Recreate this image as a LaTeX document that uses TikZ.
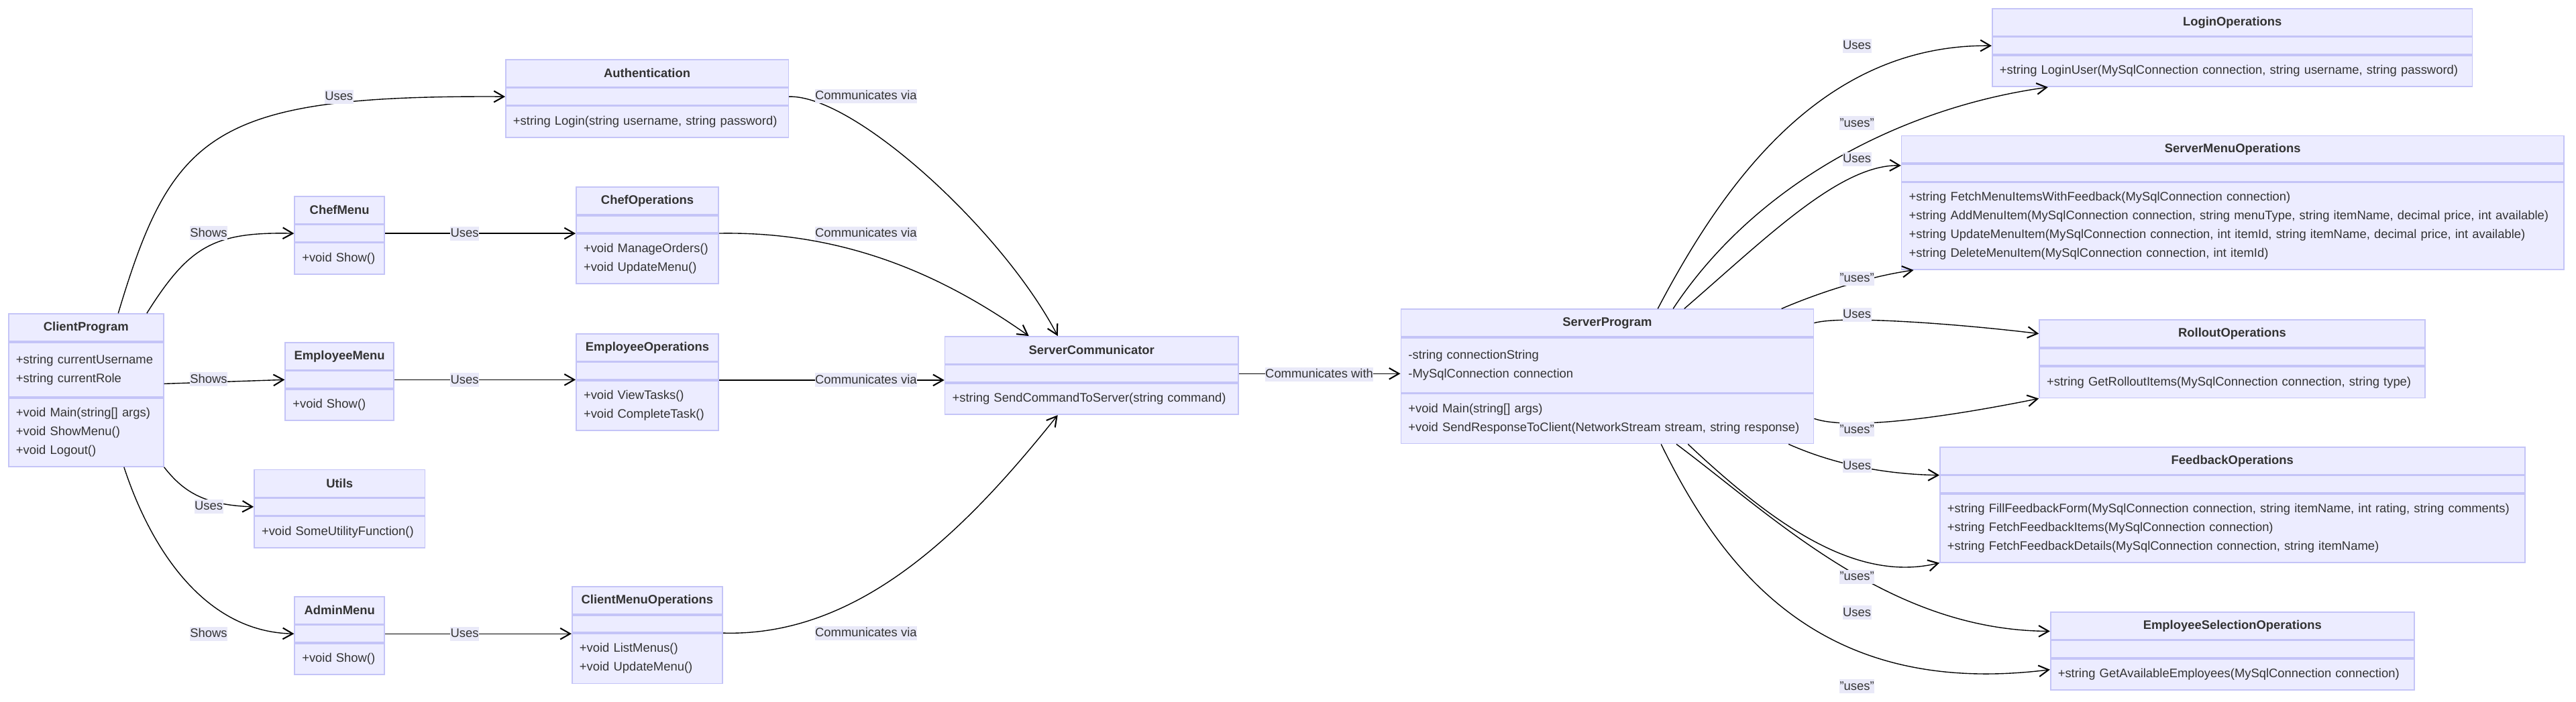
\documentclass[tikz,border=0pt]{standalone}
\usepackage{fontspec}
\setmainfont{Liberation Sans}
\usetikzlibrary{arrows.meta, positioning, calc}
\definecolor{clsfill}{HTML}{ECECFF}
\definecolor{clsline}{HTML}{C4C4F7}
\definecolor{clstext}{HTML}{333333}
\definecolor{lblfill}{HTML}{E9E9F8}

\begin{document}
\begin{tikzpicture}[x=0.05cm, y=-0.05cm, font=\fontsize{10.7}{16.26}\selectfont,
  chead/.style={draw=clsline, fill=clsfill, line width=1pt, text=clstext, inner sep=0pt, minimum height=0.835cm, anchor=north west},
  cpart/.style={draw=clsline, fill=clsfill, line width=1pt, text=clstext, align=left, inner xsep=0.225cm, inner ysep=0pt, minimum height=#1},
  elbl/.style={fill=lblfill, text=clstext, inner xsep=0.3pt, inner ysep=0.6pt, text height=8.6pt, text depth=2.4pt},
  dep/.style={line width=0.8pt, -{Straight Barb[length=3mm, width=3.4mm, line width=1.2pt]}}
]
  \fill[white] (0,0) rectangle (1568,427.5);

  \node[chead, minimum width=4.715cm] (cpt) at (4.9,190.8) {\textbf{ClientProgram}};
  \node[cpart=1.665cm, text width=4.265cm, below=0pt of cpt] (cpa) {+string currentUsername\\+string currentRole};
  \node[cpart=2.08cm, text width=4.265cm, below=0pt of cpa] (cpm) {+void Main(string[] args)\\+void ShowMenu()\\+void Logout()};

  \node[chead, minimum width=8.605cm] (autht) at (307.5,35.9) {\textbf{Authentication}};
  \node[cpart=0.52cm, text width=8.155cm, below=0pt of autht] (autha) {};
  \node[cpart=0.95cm, text width=8.155cm, below=0pt of autha] (authm) {+string Login(string username, string password)};

  \node[chead, minimum width=2.735cm] (cmt) at (179,119.2) {\textbf{ChefMenu}};
  \node[cpart=0.52cm, text width=2.285cm, below=0pt of cmt] (cma) {};
  \node[cpart=0.95cm, text width=2.285cm, below=0pt of cma] (cmm) {+void Show()};

  \node[chead, minimum width=4.33cm] (cot) at (350.4,113.6) {\textbf{ChefOperations}};
  \node[cpart=0.52cm, text width=3.88cm, below=0pt of cot] (coa) {};
  \node[cpart=1.52cm, text width=3.88cm, below=0pt of coa] (com) {+void ManageOrders()\\+void UpdateMenu()};

  \node[chead, minimum width=3.3cm] (emt) at (173.3,208.3) {\textbf{EmployeeMenu}};
  \node[cpart=0.52cm, text width=2.85cm, below=0pt of emt] (ema) {};
  \node[cpart=0.95cm, text width=2.85cm, below=0pt of ema] (emm) {+void Show()};

  \node[chead, minimum width=4.33cm] (eot) at (350.4,203) {\textbf{EmployeeOperations}};
  \node[cpart=0.52cm, text width=3.88cm, below=0pt of eot] (eoa) {};
  \node[cpart=1.52cm, text width=3.88cm, below=0pt of eoa] (eom) {+void ViewTasks()\\+void CompleteTask()};

  \node[chead, minimum width=5.195cm] (utt) at (154.4,285.7) {\textbf{Utils}};
  \node[cpart=0.52cm, text width=4.745cm, below=0pt of utt] (uta) {};
  \node[cpart=0.95cm, text width=4.745cm, below=0pt of uta] (utm) {+void SomeUtilityFunction()};

  \node[chead, minimum width=2.735cm] (amt) at (179,363) {\textbf{AdminMenu}};
  \node[cpart=0.52cm, text width=2.285cm, below=0pt of amt] (ama) {};
  \node[cpart=0.95cm, text width=2.285cm, below=0pt of ama] (amm) {+void Show()};

  \node[chead, minimum width=4.575cm] (cmot) at (347.9,357) {\textbf{ClientMenuOperations}};
  \node[cpart=0.52cm, text width=4.125cm, below=0pt of cmot] (cmoa) {};
  \node[cpart=1.52cm, text width=4.125cm, below=0pt of cmoa] (cmom) {+void ListMenus()\\+void UpdateMenu()};

  \node[chead, minimum width=8.93cm] (sct) at (574.8,204.6) {\textbf{ServerCommunicator}};
  \node[cpart=0.52cm, text width=8.48cm, below=0pt of sct] (sca) {};
  \node[cpart=0.95cm, text width=8.48cm, below=0pt of sca] (scm) {+string SendCommandToServer(string command)};

  \node[chead, minimum width=12.56cm] (spt) at (852.4,188) {\textbf{ServerProgram}};
  \node[cpart=1.665cm, text width=12.11cm, below=0pt of spt] (spa) {-string connectionString\\-MySqlConnection connection};
  \node[cpart=1.52cm, text width=12.11cm, below=0pt of spa] (spm) {+void Main(string[] args)\\+void SendResponseToClient(NetworkStream stream, string response)};

  \node[chead, minimum width=14.615cm] (lot) at (1212.3,4.9) {\textbf{LoginOperations}};
  \node[cpart=0.52cm, text width=14.165cm, below=0pt of lot] (loa) {};
  \node[cpart=0.95cm, text width=14.165cm, below=0pt of loa] (lom) {+string LoginUser(MySqlConnection connection, string username, string password)};

  \node[chead, minimum width=20.155cm] (smot) at (1157.1,82.3) {\textbf{ServerMenuOperations}};
  \node[cpart=0.52cm, text width=19.705cm, below=0pt of smot] (smoa) {};
  \node[cpart=2.65cm, text width=19.705cm, below=0pt of smoa] (smom) {+string FetchMenuItemsWithFeedback(MySqlConnection connection)\\+string AddMenuItem(MySqlConnection connection, string menuType, string itemName, decimal price, int available)\\+string UpdateMenuItem(MySqlConnection connection, int itemId, string itemName, decimal price, int available)\\+string DeleteMenuItem(MySqlConnection connection, int itemId)};

  \node[chead, minimum width=11.735cm] (rot) at (1241,194.5) {\textbf{RolloutOperations}};
  \node[cpart=0.52cm, text width=11.285cm, below=0pt of rot] (roa) {};
  \node[cpart=0.95cm, text width=11.285cm, below=0pt of roa] (rom) {+string GetRolloutItems(MySqlConnection connection, string type)};

  \node[chead, minimum width=17.8cm] (fot) at (1180.5,272) {\textbf{FeedbackOperations}};
  \node[cpart=0.52cm, text width=17.35cm, below=0pt of fot] (foa) {};
  \node[cpart=2.08cm, text width=17.35cm, below=0pt of foa] (fom) {+string FillFeedbackForm(MySqlConnection connection, string itemName, int rating, string comments)\\+string FetchFeedbackItems(MySqlConnection connection)\\+string FetchFeedbackDetails(MySqlConnection connection, string itemName)};

  \node[chead, minimum width=11.07cm] (est) at (1247.8,372.4) {\textbf{EmployeeSelectionOperations}};
  \node[cpart=0.52cm, text width=10.62cm, below=0pt of est] (esa) {};
  \node[cpart=0.95cm, text width=10.62cm, below=0pt of esa] (esm) {+string GetAvailableEmployees(MySqlConnection connection)};

  \draw[dep] ($(cpt.north west)!.706!(cpt.north east)$) .. controls (105,80) and (130,57.8) .. (autha.west);
  \draw[dep] ($(cpt.north west)!.889!(cpt.north east)$) .. controls (115,150) and (130,141.1) .. (cma.west);
  \draw[dep] ($(cpa.north east)!.75!(cpa.south east)$) -- (ema.west);
  \draw[dep] (cpm.south east) .. controls (112,300) and (125,307.6) .. (uta.west);
  \draw[dep] ($(cpm.south west)!.743!(cpm.south east)$) .. controls (92,335) and (125,384.9) .. (ama.west);
  \draw[dep] (cma.east) -- (cma.east -| coa.west);
  \draw[dep] (ema.east) -- (ema.east -| eoa.west);
  \draw[dep] (ama.east) -- (ama.east -| cmoa.west);
  \draw[dep] (autha.east) .. controls (520,57.8) and (610,140) .. ($(sct.north west)!.385!(sct.north east)$);
  \draw[dep] (com.north east) .. controls (520,140.7) and (580,172) .. ($(sct.north west)!.287!(sct.north east)$);
  \draw[dep] (eom.north east) -- (eom.north east -| sca.west);
  \draw[dep] (cmom.north east) .. controls (525,388) and (590,320) .. ($(scm.south west)!.385!(scm.south east)$);
  \draw[dep] (sca.east) -- (sca.east -| spa.west);

  \draw[dep] ($(spt.north west)!.622!(spt.north east)$) .. controls (1050,110) and (1110,26.8) .. (loa.west);
  \draw[dep] ($(spt.north west)!.659!(spt.north east)$) .. controls (1070,110) and (1160,65) .. ($(lom.south west)!.117!(lom.south east)$);
  \draw[dep] ($(spt.north west)!.686!(spt.north east)$) .. controls (1075,145) and (1120,100) .. ($(smoa.north west)!.1!(smoa.south west)$);
  \draw[dep] ($(spt.north west)!.921!(spt.north east)$) .. controls (1110,177) and (1140,168) .. ($(smom.south west)!.019!(smom.south east)$);
  \draw[dep] (spt.east) .. controls (1120,192) and (1190,197) .. (rot.west);
  \draw[dep] (spm.east) .. controls (1125,262) and (1180,255) .. (rom.south west);
  \draw[dep] ($(spm.south west)!.938!(spm.south east)$) .. controls (1110,280) and (1140,288.7) .. (fot.south west);
  \draw[dep] ($(spm.south west)!.695!(spm.south east)$) .. controls (1080,320) and (1130,355) .. (fom.south west);
  \draw[dep] ($(spm.south west)!.667!(spm.south east)$) .. controls (1080,315) and (1150,384) .. ($(est.north west)!.69!(est.south west)$);
  \draw[dep] ($(spm.south west)!.63!(spm.south east)$) .. controls (1050,350) and (1110,425) .. ($(esm.north west)!.35!(esm.south west)$);

  \node[elbl] (lu1) at (206.3,58.8) {Uses};
  \node[elbl] (ls1) at (127,142) {Shows};
  \node[elbl] (lu2) at (282.8,142.3) {Uses};
  \node[elbl] (lc1) at (527.1,58.6) {Communicates via};
  \node[elbl] (lc2) at (527.1,142.3) {Communicates via};
  \node[elbl] (ls2) at (127,231) {Shows};
  \node[elbl] (lu3) at (282.8,231.5) {Uses};
  \node[elbl] (lc3) at (527.1,231.5) {Communicates via};
  \node[elbl] (lu4) at (127,308.3) {Uses};
  \node[elbl] (ls3) at (127,385.9) {Shows};
  \node[elbl] (lu5) at (282.8,385.9) {Uses};
  \node[elbl] (lc4) at (527.1,385.5) {Communicates via};
  \node[elbl] (lw) at (803,228.1) {Communicates with};

  \node[elbl] (ru1) at (1130.3,27.9) {Uses};
  \node[elbl] (rq1) at (1130.3,75) {"uses"};
  \node[elbl] (ru2) at (1130.3,96.8) {Uses};
  \node[elbl] (rq2) at (1130.3,169.7) {"uses"};
  \node[elbl] (ru3) at (1130.3,191.7) {Uses};
  \node[elbl] (rq3) at (1130.3,261.7) {"uses"};
  \node[elbl] (ru4) at (1130.3,283.7) {Uses};
  \node[elbl] (rq4) at (1130.3,351.4) {"uses"};
  \node[elbl] (ru5) at (1130.3,373.1) {Uses};
  \node[elbl] (rq5) at (1130.3,418) {"uses"};
\end{tikzpicture}
\end{document}
